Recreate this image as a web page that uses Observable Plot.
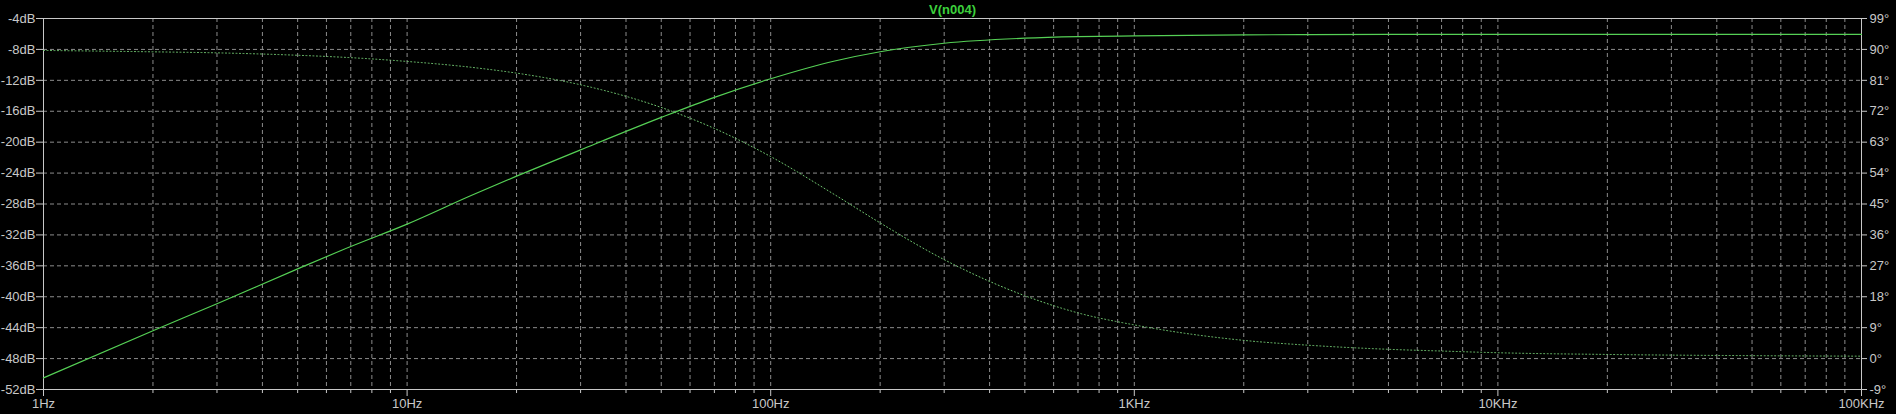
<!DOCTYPE html>
<html><head><meta charset="utf-8">
<script src="https://cdn.jsdelivr.net/npm/d3@7"></script>
<script src="https://cdn.jsdelivr.net/npm/@observablehq/plot@0.6"></script>
<style>html,body{margin:0;padding:0;background:#000;overflow:hidden}</style>
</head><body><div id="chart"></div>
<script>
const title = "V(n004)";
const freq = [1, 2, 3, 5, 7, 10, 15, 20, 30, 50, 70, 100, 150, 200, 300, 500, 700, 1000, 2000, 3000, 5000, 7000, 10000, 20000, 50000, 100000];
const magDb = [-50.5, -44.4, -40.9, -36.4, -33.5, -30.6, -26.9, -24.4, -21.0, -16.8, -14.2, -11.8, -9.5, -8.3, -7.2, -6.55, -6.35, -6.25, -6.12, -6.08, -6.06, -6.06, -6.06, -6.06, -6.06, -6.06];
const phaseDeg = [89.7, 89.3, 89.0, 88.3, 87.6, 86.5, 84.8, 83.1, 79.7, 73.1, 67.0, 58.8, 47.7, 39.5, 28.8, 18.3, 13.3, 9.8, 5.3, 3.9, 2.7, 2.2, 1.7, 1.2, 0.85, 0.7];
const dbTicks = [-52, -48, -44, -40, -36, -32, -28, -24, -20, -16, -12, -8, -4];
const degTicks = [-9, 0, 9, 18, 27, 36, 45, 54, 63, 72, 81, 90, 99];
const freqMajor = [1, 10, 100, 1000, 10000, 100000];
const freqLabels = ["1Hz", "10Hz", "100Hz", "1KHz", "10KHz", "100KHz"];

const toDb = d => dbTicks[0] + (d - degTicks[0]) * (dbTicks[dbTicks.length-1] - dbTicks[0]) / (degTicks[degTicks.length-1] - degTicks[0]);
const rows = freq.map((f, i) => ({f, mag: magDb[i], ph: toDb(phaseDeg[i])}));
const minor = [];
for (let e = 0; e < 5; e++) for (let k = 2; k <= 9; k++) minor.push(k * 10 ** e);
const gridFreqs = minor.concat(freqMajor.slice(1, -1));

const chart = Plot.plot({
  width: 1896, height: 414,
  marginLeft: 43, marginRight: 35, marginTop: 18, marginBottom: 25,
  style: {background: "#000", color: "#c8c8c8", fontFamily: "'Liberation Sans', Arial, sans-serif", fontSize: "13px"},
  x: {type: "log", domain: [freqMajor[0], freqMajor[freqMajor.length-1]]},
  y: {domain: [dbTicks[0], dbTicks[dbTicks.length-1]]},
  marks: [
    Plot.gridX(gridFreqs, {stroke: "#8c8c8c", strokeOpacity: 1, strokeDasharray: "4,3"}),
    Plot.gridY(dbTicks.slice(1, -1), {stroke: "#8c8c8c", strokeOpacity: 1, strokeDasharray: "4,3"}),
    Plot.axisY(dbTicks, {anchor: "left", tickFormat: d => d + "dB", tickSize: 7, tickPadding: 1, label: null}),
    Plot.axisY(dbTicks, {anchor: "right", tickFormat: d => degTicks[dbTicks.indexOf(d)] + "°", tickSize: 5, tickPadding: 3, label: null}),
    Plot.axisX(minor, {anchor: "bottom", tickSize: 4, tickFormat: () => "", label: null}),
    Plot.axisX(freqMajor, {anchor: "bottom", tickSize: 7, tickPadding: 2, tickFormat: d => freqLabels[freqMajor.indexOf(d)], label: null}),
    Plot.frame({stroke: "#c8c8c8"}),
    Plot.line(rows, {x: "f", y: "ph", stroke: "#72c872", strokeWidth: 1, strokeDasharray: "1,2.5", curve: "monotone-x"}),
    Plot.line(rows, {x: "f", y: "mag", stroke: "#55d055", strokeWidth: 1.2, curve: "monotone-x"}),
    Plot.text([title], {frameAnchor: "top", lineAnchor: "middle", dy: -9, fill: "#3cd03c", fontSize: 13, fontWeight: "bold"})
  ]
});
document.getElementById("chart").appendChild(chart);
</script>
</body></html>
